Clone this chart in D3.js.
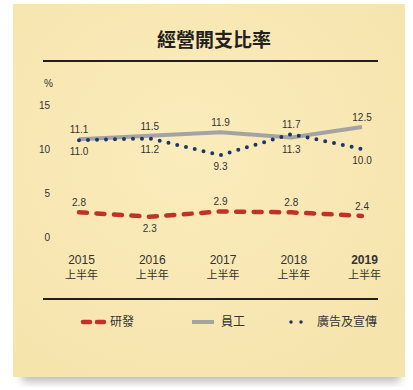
<!DOCTYPE html>
<html><head><meta charset="utf-8">
<script src="https://cdn.jsdelivr.net/npm/d3@7"></script>
<style>html,body{margin:0;padding:0;background:#fff;}svg{display:block;}</style>
</head><body>
<script>
const categories = ["2015", "2016", "2017", "2018", "2019"];
const subLabel = "上半年";
const rdValues = [2.8, 2.3, 2.9, 2.8, 2.4];
const staffValues = [11.1, 11.5, 11.9, 11.3, 12.5];
const adValues = [11.0, 11.2, 9.3, 11.7, 10.0];
const yTicks = [0, 5, 10, 15];
const seriesNames = ["研發", "員工", "廣告及宣傳"];
const title = "經營開支比率";

const W = 413, H = 390;
const svg = d3.select("body").append("svg").attr("width", W).attr("height", H);
const defs = svg.append("defs");
const f = defs.append("filter").attr("id","sh").attr("x","-10%").attr("y","-10%").attr("width","120%").attr("height","130%");
f.append("feGaussianBlur").attr("stdDeviation", 4);
const g = defs.append("radialGradient").attr("id","paper").attr("cx","45%").attr("cy","40%").attr("r","70%");
g.append("stop").attr("offset","0%").attr("stop-color","#fbecbc");
g.append("stop").attr("offset","100%").attr("stop-color","#f6e4ad");

svg.append("rect").attr("x",22).attr("y",360).attr("width",378).attr("height",22).attr("fill","#bdbdbd").attr("filter","url(#sh)");
svg.append("rect").attr("x",13).attr("y",4).attr("width",392).attr("height",373).attr("fill","url(#paper)");

const font = "'Liberation Sans', Arial, sans-serif";
const cjk = "'Noto Sans CJK TC', 'Noto Sans CJK SC', sans-serif";

svg.append("text").attr("x",214).attr("y",47).attr("text-anchor","middle")
  .attr("font-family",cjk).attr("font-weight",700).attr("font-size",19).attr("fill","#231f20").text(title);

[61, 299].forEach(yy => {
  svg.append("line").attr("x1",43).attr("x2",378).attr("y1",yy).attr("y2",yy)
    .attr("stroke","#231f20").attr("stroke-width",2.2);
});

const x = d3.scalePoint().domain(categories).range([79, 362]);
const y = d3.scaleLinear().domain([0, 15]).range([237, 105]);

// y axis labels
const yAxis = d3.axisLeft(y).tickValues(yTicks).tickSize(0).tickPadding(0);
const ya = svg.append("g").attr("transform","translate(50,0)").call(yAxis);
ya.select(".domain").remove();
ya.selectAll("text").attr("font-family",font).attr("font-size",10).attr("fill","#333");
svg.append("text").attr("x",44).attr("y",87).attr("font-family",font).attr("font-size",10).attr("fill","#333").text("%");

// x axis labels
const xAxis = d3.axisBottom(x).tickSize(0).tickPadding(0);
const xa = svg.append("g").attr("transform","translate(2,0)").call(xAxis);
xa.select(".domain").remove();
xa.selectAll(".tick text").attr("font-family",font).attr("font-size",12).attr("fill","#333")
  .attr("font-weight", d => d === "2019" ? 700 : 400).attr("dy",null).attr("y",264);
xa.selectAll(".tick").append("text").attr("y",279).attr("text-anchor","middle")
  .attr("font-family",cjk).attr("font-size",11).attr("fill","#333").text(subLabel);

const line = d3.line().x((d,i)=>x(categories[i])).y(d=>y(d)).curve(d3.curveLinear);

svg.append("path").datum(staffValues).attr("d",line).attr("fill","none")
  .attr("stroke","#a3a3a3").attr("stroke-width",4);
svg.append("path").datum(adValues).attr("d",line).attr("fill","none")
  .attr("stroke","#1d3567").attr("stroke-width",4).attr("stroke-linecap","round")
  .attr("stroke-dasharray","0,9");
svg.append("path").datum(rdValues).attr("d",line).attr("fill","none")
  .attr("stroke","#c1312b").attr("stroke-width",4.5).attr("stroke-linecap","round")
  .attr("stroke-dasharray","8,9.5");

function labels(vals, posFn) {
  svg.append("g").selectAll("text").data(vals).join("text")
    .attr("x",(d,i)=>x(categories[i]))
    .attr("y",(d,i)=>y(d) + (posFn(i) ? -6 : 15))
    .attr("text-anchor","middle").attr("font-family",font).attr("font-size",10).attr("fill","#333")
    .text(d=>d.toFixed(1));
}
labels(staffValues, i => staffValues[i] >= adValues[i]);
labels(adValues, i => adValues[i] > staffValues[i]);
labels(rdValues, i => i !== 1);

// legend
const ly = 322;
const lg = svg.append("g");
lg.append("line").attr("x1",83).attr("x2",104).attr("y1",ly).attr("y2",ly).attr("stroke","#c1312b")
  .attr("stroke-width",4.5).attr("stroke-linecap","round").attr("stroke-dasharray","7,7");
lg.append("line").attr("x1",192).attr("x2",214).attr("y1",ly).attr("y2",ly).attr("stroke","#a3a3a3").attr("stroke-width",4);
lg.append("line").attr("x1",291).attr("x2",311).attr("y1",ly).attr("y2",ly).attr("stroke","#1d3567")
  .attr("stroke-width",3.5).attr("stroke-linecap","round").attr("stroke-dasharray","0,10");
[[110,seriesNames[0]],[221,seriesNames[1]],[317,seriesNames[2]]].forEach(([lx,t])=>{
  lg.append("text").attr("x",lx).attr("y",ly).attr("dy","0.36em").attr("font-family",cjk)
    .attr("font-size",12).attr("fill","#333").text(t);
});
</script>
</body></html>
